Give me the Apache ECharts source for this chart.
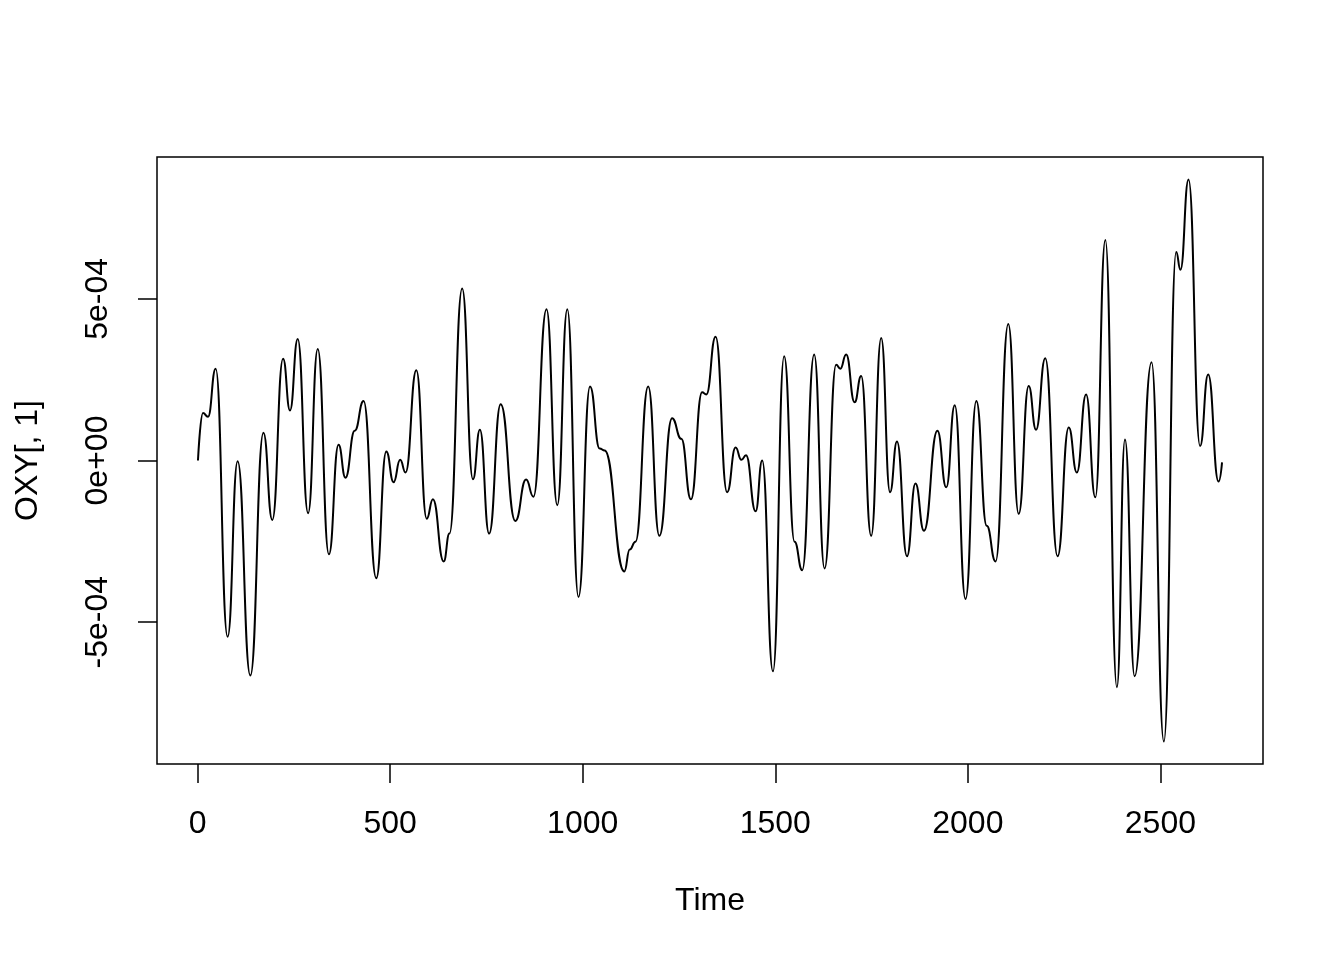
<!DOCTYPE html>
<html>
<head>
<meta charset="utf-8">
<title>OXY[, 1]</title>
<script src="https://cdn.jsdelivr.net/npm/echarts@6/dist/echarts.min.js"></script>
<style>
  html, body { margin: 0; padding: 0; background: #fff; }
  #chart { width: 1344px; height: 960px; }
</style>
</head>
<body>
<div id="chart"></div>
<script>
// Local extrema (and shoulders) of the series
const timeIdx = [1, 14, 27, 47, 78, 104, 137, 171, 194, 222, 240, 260, 287, 312, 341, 366, 384, 408, 431, 464,
  490, 509, 526, 540, 568, 595, 611, 639, 654, 687, 715, 733, 757, 787, 825, 853, 872, 906, 934, 960,
  989, 1019, 1044, 1057, 1108, 1122, 1137, 1170, 1199, 1232, 1256, 1281, 1310, 1321, 1345, 1375, 1397, 1412, 1424, 1449,
  1466, 1494, 1523, 1550, 1570, 1601, 1628, 1658, 1669, 1684, 1706, 1723, 1749, 1775, 1798, 1816, 1842, 1864, 1886, 1921,
  1944, 1966, 1994, 2022, 2049, 2072, 2105, 2132, 2158, 2177, 2201, 2233, 2262, 2283, 2307, 2331, 2357, 2387, 2408, 2433,
  2477, 2509, 2541, 2552, 2573, 2603, 2624, 2651, 2660];
const oxyValues = [0, 1.47e-4, 1.35e-4, 2.84e-4, -5.45e-4, -0.02e-4, -6.65e-4, 0.86e-4, -1.84e-4, 3.15e-4,
  1.55e-4, 3.76e-4, -1.63e-4, 3.45e-4, -2.90e-4, 0.49e-4, -0.53e-4, 0.92e-4, 1.84e-4, -3.64e-4,
  0.28e-4, -0.67e-4, 0.02e-4, -0.37e-4, 2.79e-4, -1.80e-4, -1.20e-4, -3.12e-4, -2.26e-4, 5.32e-4,
  -0.58e-4, 0.95e-4, -2.26e-4, 1.74e-4, -1.87e-4, -0.59e-4, -1.12e-4, 4.68e-4, -1.38e-4, 4.68e-4,
  -4.22e-4, 2.29e-4, 0.37e-4, 0.31e-4, -3.43e-4, -2.75e-4, -2.51e-4, 2.29e-4, -2.33e-4, 1.31e-4,
  0.67e-4, -1.20e-4, 2.11e-4, 2.04e-4, 3.83e-4, -0.98e-4, 0.40e-4, 0.02e-4, 0.16e-4, -1.57e-4,
  0, -6.52e-4, 3.22e-4, -2.51e-4, -3.39e-4, 3.28e-4, -3.34e-4, 2.96e-4, 2.84e-4, 3.28e-4,
  1.80e-4, 2.61e-4, -2.33e-4, 3.79e-4, -0.98e-4, 0.59e-4, -2.96e-4, -0.71e-4, -2.17e-4, 0.92e-4,
  -0.83e-4, 1.71e-4, -4.28e-4, 1.84e-4, -2.02e-4, -3.12e-4, 4.22e-4, -1.65e-4, 2.30e-4, 0.95e-4,
  3.16e-4, -2.96e-4, 1.02e-4, -0.37e-4, 2.04e-4, -1.14e-4, 6.82e-4, -7.01e-4, 0.65e-4, -6.67e-4,
  3.04e-4, -8.69e-4, 6.45e-4, 5.90e-4, 8.69e-4, 0.45e-4, 2.66e-4, -0.65e-4, -0.06e-4];
const xTicks = [0, 500, 1000, 1500, 2000, 2500];
const yTicks = [-5e-4, 0, 5e-4];

function rSci(v) {
  if (Math.abs(v) < 1e-15) return '0e+00';
  const e = Math.floor(Math.log10(Math.abs(v)) + 1e-9);
  const m = Math.round(v / Math.pow(10, e));
  const es = (e < 0 ? '-' : '+') + String(Math.abs(e)).padStart(2, '0');
  return m + 'e' + es;
}

// R-style 4% range extension
const tMin = Math.min(...timeIdx), tMax = Math.max(...timeIdx);
const vMin = Math.min(...oxyValues), vMax = Math.max(...oxyValues);
const tPad = (tMax - tMin) * 0.04, vPad = (vMax - vMin) * 0.04;

const FONT = 'Liberation Sans, Arial, Helvetica, sans-serif';
const chart = echarts.init(document.getElementById('chart'), null, { renderer: 'canvas' });
chart.setOption({
  animation: false,
  backgroundColor: '#ffffff',
  grid: {
    left: 157, right: 81, top: 157, bottom: 196,
    show: true, borderColor: '#000', borderWidth: 1.5, backgroundColor: 'transparent'
  },
  xAxis: {
    type: 'value',
    min: tMin - tPad, max: tMax + tPad,
    name: 'Time', nameLocation: 'middle', nameGap: 121,
    nameTextStyle: { fontFamily: FONT, fontSize: 32, color: '#000' },
    axisLine: { show: false, onZero: false },
    splitLine: { show: false },
    axisTick: { show: true, inside: false, customValues: xTicks, length: 19, lineStyle: { color: '#000', width: 1.5 } },
    axisLabel: { customValues: xTicks, margin: 44, fontFamily: FONT, fontSize: 32, color: '#000',
      formatter: v => String(v) }
  },
  yAxis: {
    type: 'value',
    min: vMin - vPad, max: vMax + vPad,
    name: 'OXY[, 1]', nameLocation: 'middle', nameGap: 113, nameRotate: 90,
    nameTextStyle: { fontFamily: FONT, fontSize: 32, color: '#000' },
    axisLine: { show: false, onZero: false },
    splitLine: { show: false },
    axisTick: { show: true, inside: false, customValues: yTicks, length: 19, lineStyle: { color: '#000', width: 1.5 } },
    axisLabel: { customValues: yTicks, rotate: 90, margin: 43, fontFamily: FONT, fontSize: 32, color: '#000',
      formatter: rSci }
  },
  series: [{
    type: 'line',
    data: timeIdx.map((t, i) => [t, oxyValues[i]]),
    showSymbol: false,
    smooth: 0.5,
    smoothMonotone: 'x',
    lineStyle: { color: '#000', width: 2 },
    clip: false
  }]
});
</script>
</body>
</html>
